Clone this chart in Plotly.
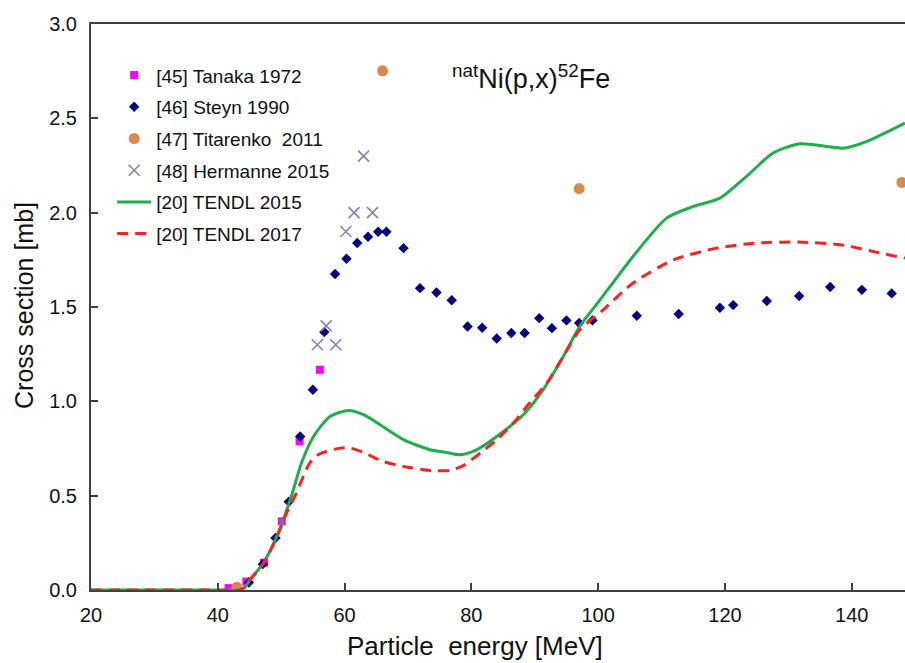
import plotly.graph_objects as go

# ---- data ----
tanaka_e = [41.7, 44.5, 47.3, 50.1, 52.9, 56.1]
tanaka_xs = [0.01, 0.045, 0.145, 0.364, 0.788, 1.167]

steyn_e = [44.9, 47.1, 49.1, 51.2, 53.0, 55.0, 56.8, 58.5, 60.3, 62.0, 63.7, 65.3, 66.6,
           69.3, 71.9, 74.5, 76.9, 79.4, 81.7, 84.0, 86.3, 88.4, 90.7, 92.7, 95.0, 97.0,
           99.1, 106.1, 112.7, 119.2, 121.3, 126.6, 131.7, 136.6, 141.6, 146.3]
steyn_xs = [0.04, 0.137, 0.276, 0.468, 0.814, 1.061, 1.367, 1.675, 1.756, 1.839, 1.872, 1.899,
            1.899, 1.812, 1.600, 1.577, 1.536, 1.397, 1.390, 1.333, 1.362, 1.362, 1.441,
            1.388, 1.429, 1.415, 1.429, 1.454, 1.463, 1.496, 1.510, 1.532, 1.558, 1.606,
            1.591, 1.572]

titarenko_e = [43.0, 66.0, 97.0, 147.9]
titarenko_xs = [0.014, 2.752, 2.128, 2.160]

hermanne_e = [55.7, 57.1, 58.6, 60.2, 61.5, 63.0, 64.4]
hermanne_xs = [1.30, 1.40, 1.30, 1.90, 2.00, 2.30, 2.00]

tendl15_e = [20, 30, 40, 43.5, 44.3, 45.1, 47.2, 49.3, 51.6, 53.2, 55.1, 57.7, 60.6, 63.0,
             65.6, 69.3, 73.5, 76.1, 78.2, 80.8, 84.0, 88.2, 91.3, 94.5, 97.1, 100.3, 105.5,
             110.8, 115.0, 119.2, 123.4, 127.6, 131.8, 136.0, 138.7, 142.3, 148.4]
tendl15_xs = [0, 0, 0, 0, 0.016, 0.055, 0.143, 0.284, 0.496, 0.673, 0.814, 0.92, 0.952, 0.929,
              0.876, 0.797, 0.743, 0.729, 0.717, 0.743, 0.814, 0.929, 1.061, 1.238, 1.397,
              1.538, 1.768, 1.971, 2.033, 2.077, 2.192, 2.316, 2.365, 2.351, 2.342, 2.377, 2.475]

tendl17_e = [20, 30, 40, 43.5, 44.3, 45.1, 47.2, 49.3, 51.0, 52.4, 54.5, 56.1, 59.3, 60.9,
             63.0, 66.1, 69.3, 73.5, 76.6, 78.7, 81.4, 84.0, 86.6, 89.2, 91.9, 94.5, 97.1,
             100.8, 105.5, 111.9, 118.7, 125.0, 131.8, 138.2, 144.5, 148.4]
tendl17_xs = [0, 0, 0, 0, 0.016, 0.055, 0.14, 0.28, 0.42, 0.514, 0.673, 0.722, 0.752, 0.752,
              0.729, 0.681, 0.655, 0.634, 0.634, 0.659, 0.726, 0.797, 0.885, 0.991, 1.097,
              1.238, 1.379, 1.485, 1.627, 1.75, 1.812, 1.839, 1.844, 1.830, 1.786, 1.759]

x_ticks = [20, 40, 60, 80, 100, 120, 140]
y_ticks = [0.0, 0.5, 1.0, 1.5, 2.0, 2.5, 3.0]

FONT = "Liberation Sans, Arial, sans-serif"
AXC = "#404040"
TXT = "#111111"

W, H = 905, 663
L, T, B = 91, 24, 73
pw, ph = W - L, H - T - B


def px_x(p):
    return (p - L) / pw


def px_y(p):
    return (H - B - p) / ph


fig = go.Figure()
fig.add_trace(go.Scatter(x=tanaka_e, y=tanaka_xs, mode="markers", name="[45] Tanaka 1972",
                         legendgroup="a",
                         marker=dict(symbol="square", size=8, color="#ff00ff")))
fig.add_trace(go.Scatter(x=steyn_e, y=steyn_xs, mode="markers", name="[46] Steyn 1990",
                         legendgroup="b",
                         marker=dict(symbol="diamond", size=8, color="#000080")))
fig.add_trace(go.Scatter(x=titarenko_e, y=titarenko_xs, mode="markers", name="[47] Titarenko  2011",
                         legendgroup="c",
                         marker=dict(symbol="circle", size=11, color="#d98a4a")))
fig.add_trace(go.Scatter(x=hermanne_e, y=hermanne_xs, mode="markers", name="[48] Hermanne 2015",
                         legendgroup="d",
                         marker=dict(symbol="x-thin", size=11, color="#8a7fb0",
                                     line=dict(width=1.6, color="#8a7fb0"))))
fig.add_trace(go.Scatter(x=tendl15_e, y=tendl15_xs, mode="lines", name="[20] TENDL 2015",
                         legendgroup="e",
                         line=dict(color="#1fae4b", width=3, shape="spline", smoothing=0.7)))
fig.add_trace(go.Scatter(x=tendl17_e, y=tendl17_xs, mode="lines", name="[20] TENDL 2017",
                         legendgroup="f",
                         line=dict(color="#ff2020", width=3, dash="11px,7px",
                                   shape="spline", smoothing=0.7)))

fig.update_layout(
    width=W, height=H,
    margin=dict(l=L, r=0, t=T, b=B),
    paper_bgcolor="white", plot_bgcolor="white",
    font=dict(family=FONT, color=TXT),
    showlegend=True,
    legend=dict(x=0.026, y=0.943, xanchor="left", yanchor="top",
                font=dict(size=19, family=FONT, color=TXT),
                bgcolor="rgba(0,0,0,0)", tracegroupgap=4, itemwidth=34),
    annotations=[
        dict(text="<sup>nat</sup>Ni(p,x)<sup>52</sup>Fe", x=px_x(531), y=px_y(77),
             xref="paper", yref="paper", xanchor="center", yanchor="middle", showarrow=False,
             font=dict(size=27, family=FONT, color=TXT)),
        dict(text="Particle\u00a0\u00a0energy [MeV]", x=px_x(475), y=px_y(646),
             xref="paper", yref="paper", xanchor="center", yanchor="middle", showarrow=False,
             borderpad=0, font=dict(size=26, family=FONT, color=TXT)),
        dict(text="Cross section [mb]", x=px_x(24), y=px_y(306), textangle=-90,
             xref="paper", yref="paper", xanchor="center", yanchor="middle", showarrow=False,
             font=dict(size=25, family=FONT, color=TXT)),
    ],
)

fig.update_xaxes(range=[20, 148.4], tickvals=x_ticks, ticktext=[str(v) for v in x_ticks],
                 showgrid=False, zeroline=False, showline=True, linewidth=2, linecolor=AXC,
                 mirror=True, ticks="inside", ticklen=7, tickwidth=1.5, tickcolor=AXC,
                 tickfont=dict(size=20, family=FONT, color=TXT), ticklabelstandoff=6)
fig.update_yaxes(range=[0, 3.0], tickvals=y_ticks, ticktext=[f"{v:.1f}" for v in y_ticks],
                 showgrid=False, zeroline=False, showline=True, linewidth=2, linecolor=AXC,
                 ticks="inside", ticklen=7, tickwidth=1.5, tickcolor=AXC,
                 tickfont=dict(size=20, family=FONT, color=TXT), ticklabelstandoff=8)

fig.write_html("out.html", config={"displayModeBar": False},
               post_script="document.body.style.margin='0';document.body.style.overflow='hidden';")
